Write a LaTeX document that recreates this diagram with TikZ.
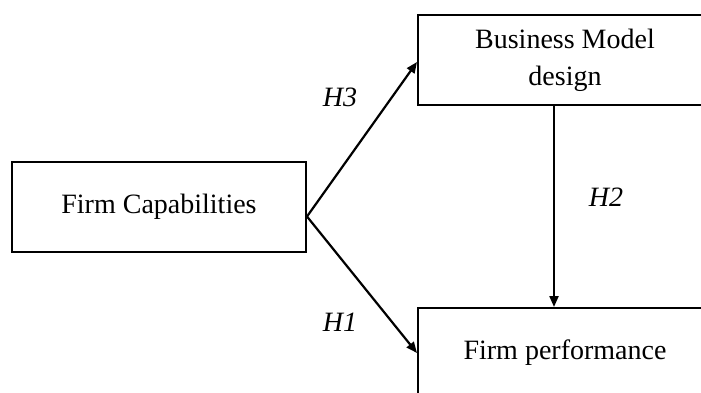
\documentclass[tikz,border=0pt]{standalone}
\usepackage{fontspec}
\setmainfont{Liberation Serif}
\usetikzlibrary{arrows.meta}
\begin{document}
\begin{tikzpicture}[x=1pt,y=-1pt,
  box/.style={draw=black,line width=2pt,rectangle,minimum width=294pt,minimum height=90pt,inner sep=0pt,font=\fontsize{28}{37}\selectfont,align=center},
  arr/.style={line width=2.2pt,-{Triangle[length=11pt,width=9pt]}},
  lab/.style={font=\fontsize{28}{30}\selectfont\itshape}]
\useasboundingbox (0,0) rectangle (701,393);
\clip (0,0) rectangle (701,393);
\node[box] (fc) at (159,206.5) {Firm Capabilities};
\node[box] (bm) at (565,60) {Business Model\\design};
\node[box] (fp) at (565,353) {Firm performance};
\coordinate (src) at ([yshift=-10pt]fc.east);
\coordinate (bmin) at ([yshift=-2pt]bm.west);
\coordinate (vx) at (554,0);
\draw[arr] (src) -- (bmin);
\draw[arr] (src) -- (fp.west);
\draw[arr] (bm.south -| vx) -- (fp.north -| vx);
\node[lab] (h3) at (340,97) {H3};
\node[lab] (h1) at (340,322) {H1};
\node[lab] (h2) at (606,197) {H2};
\end{tikzpicture}
\end{document}
